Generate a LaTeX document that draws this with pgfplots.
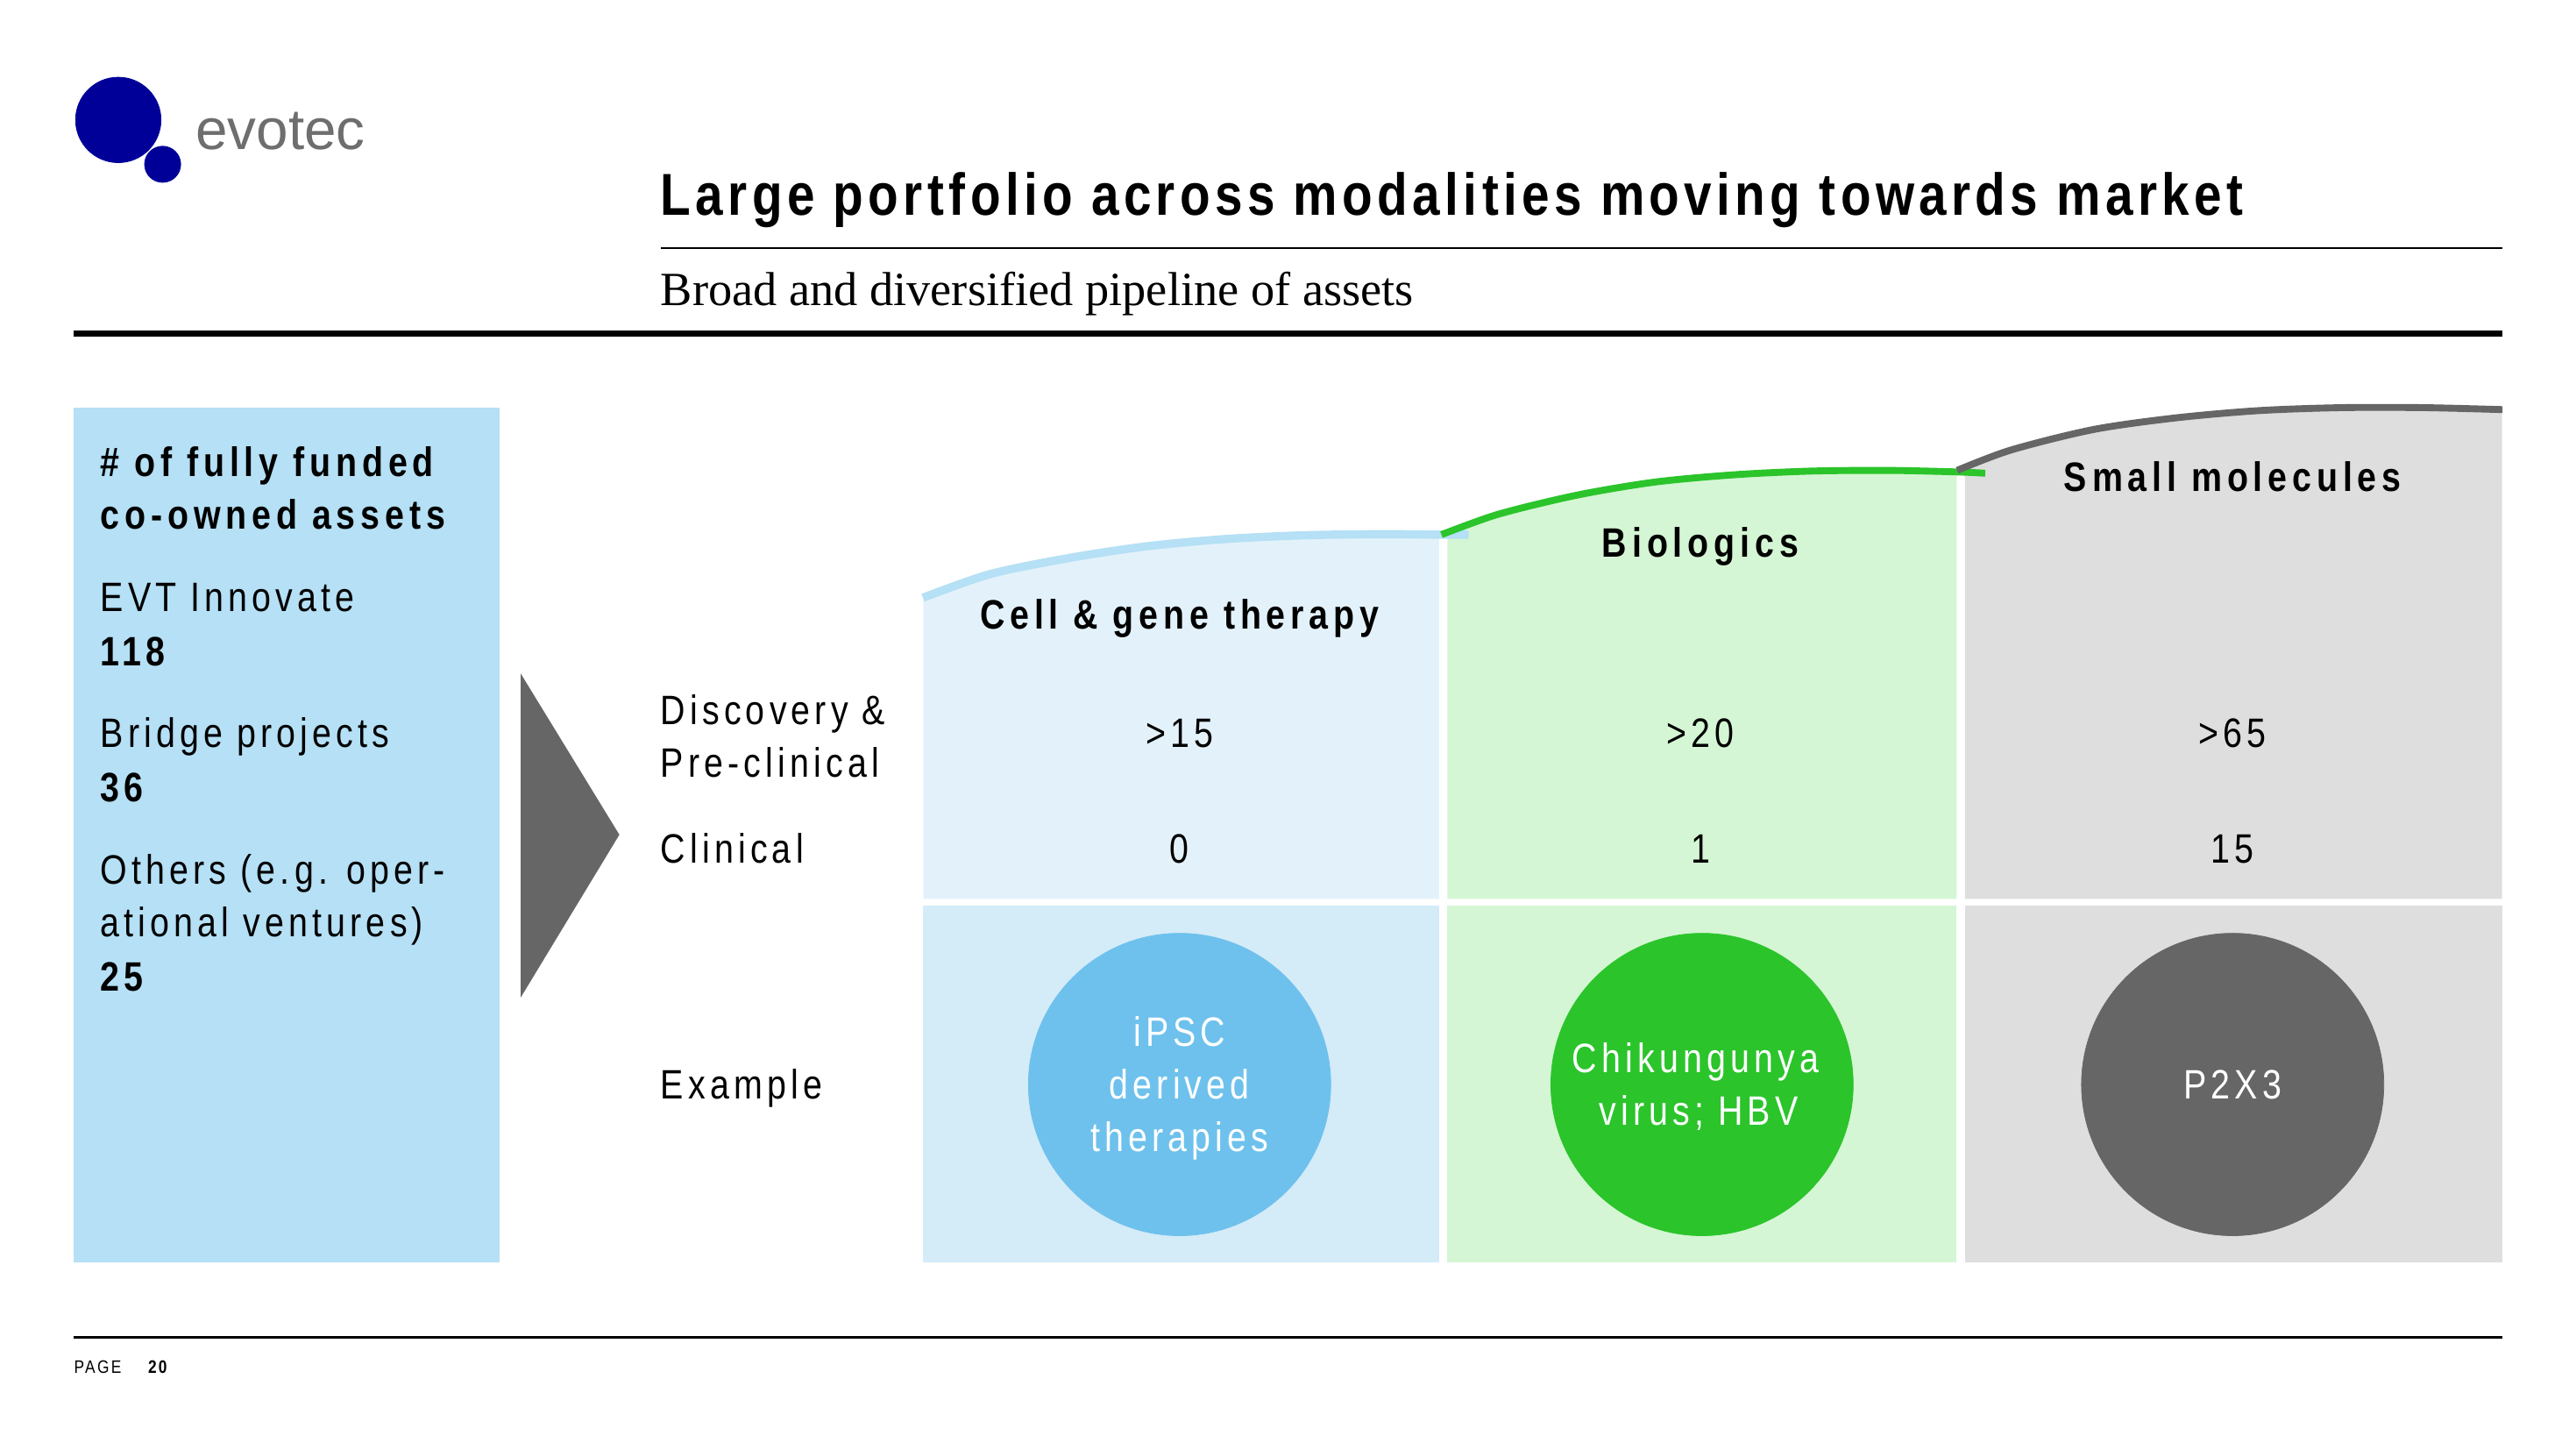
\documentclass[border=0pt]{standalone}
\usepackage{pgfplots}
\pgfplotsset{compat=1.18}
\usepackage{fontspec}
\setmainfont{Liberation Sans}[FakeStretch=0.84, LetterSpace=11]
\newfontfamily\boldsp{Liberation Sans}[FakeStretch=0.84, LetterSpace=12.5]
\newfontfamily\titlefont{Liberation Sans}[FakeStretch=0.84, LetterSpace=8]
\newfontfamily\serifsub{Liberation Serif}
\newfontfamily\logofont{Liberation Sans}
\definecolor{navy}{RGB}{0,0,153}
\definecolor{logogray}{RGB}{110,110,110}
\definecolor{boxblue}{RGB}{181,224,245}
\definecolor{cellup}{RGB}{227,242,250}
\definecolor{celllo}{RGB}{212,235,248}
\definecolor{bioup}{RGB}{212,246,212}
\definecolor{smup}{RGB}{222,222,222}
\definecolor{darkgray}{RGB}{102,102,102}
\definecolor{circblue}{RGB}{110,193,236}
\definecolor{circgreen}{RGB}{43,196,43}
\definecolor{arcblue}{RGB}{181,224,245}
\definecolor{arcgreen}{RGB}{43,196,43}
\newcommand{\fs}[1]{\fontsize{#1}{#1}\selectfont}
\begin{document}
\begin{tikzpicture}
\begin{axis}[set layers, width=1568pt, height=882pt, scale only axis,
  xmin=0, xmax=1568, ymin=0, ymax=882, y dir=reverse,
  hide axis, clip=false]
% background
\addplot[fill=white, draw=none] coordinates {(0,0) (1568,0) (1568,882) (0,882)} -- cycle;
% logo
\addplot[navy, only marks, mark=*, mark size=26pt, mark options={fill=navy, draw=navy}] coordinates {(72,73)};
\addplot[navy, only marks, mark=*, mark size=11pt, mark options={fill=navy, draw=navy}] coordinates {(99,100)};
% rules
\addplot[black, line width=1.5pt] coordinates {(402,151) (1523,151)};
\addplot[black, line width=4pt] coordinates {(45,203) (1523,203)};
% left box
\addplot[fill=boxblue, draw=none] coordinates {(45,248) (304,248) (304,768) (45,768)} -- cycle;
% triangle
\addplot[fill=darkgray, draw=none] coordinates {(317,410) (377,508) (317,607)} -- cycle;
% column fills (upper)
\addplot[fill=cellup, draw=none] coordinates {(562,547) (562,363.8) (602.3,349.5) (650.1,339.7) (697.8,332.5) (745.3,328.1) (793,325.8) (840.7,325.1) (876,325.4) (876,547)} -- cycle;
\addplot[fill=bioup, draw=none] coordinates {(881,547) (881,324) (911.9,313) (959.6,301.4) (1007.2,293.4) (1054.8,289) (1102.4,286.7) (1150,286.3) (1191,287.2) (1191,547)} -- cycle;
\addplot[fill=smup, draw=none] coordinates {(1196,547) (1196,284) (1224,273.9) (1274.3,261.4) (1324.6,254.3) (1374.9,249.9) (1425.2,248.1) (1475.5,248.1) (1523,249.3) (1523,547)} -- cycle;
% lower fills
\addplot[fill=celllo, draw=none] coordinates {(562,551) (876,551) (876,768) (562,768)} -- cycle;
\addplot[fill=bioup, draw=none] coordinates {(881,551) (1191,551) (1191,768) (881,768)} -- cycle;
\addplot[fill=smup, draw=none] coordinates {(1196,551) (1523,551) (1523,768) (1196,768)} -- cycle;
% arcs
\addplot[arcblue, line width=5pt, smooth] coordinates {(561.8,363.8) (602.3,349.5) (650.1,339.7) (697.8,332.5) (745.3,328.1) (793,325.8) (840.7,325.1) (876.4,325.4) (894,325.4)};
\addplot[arcgreen, line width=4.2pt, smooth] coordinates {(877.4,325.4) (911.9,313) (959.6,301.4) (1007.2,293.4) (1054.8,289) (1102.4,286.7) (1150,286.3) (1190.6,287.2) (1208.4,288)};
\addplot[darkgray, line width=4.2pt, smooth] coordinates {(1191.3,286.3) (1224,273.9) (1274.3,261.4) (1324.6,254.3) (1374.9,249.9) (1425.2,248.1) (1475.5,248.1) (1523.2,249.3)};
% circles
\addplot[circblue, only marks, mark=*, mark size=92pt, mark options={fill=circblue, draw=circblue}] coordinates {(718,660)};
\addplot[circgreen, only marks, mark=*, mark size=92pt, mark options={fill=circgreen, draw=circgreen}] coordinates {(1036,660)};
\addplot[darkgray, only marks, mark=*, mark size=92pt, mark options={fill=darkgray, draw=darkgray}] coordinates {(1359,660)};
% footer
\addplot[black, line width=1.5pt] coordinates {(45,814) (1523,814)};

\begin{pgfonlayer}{axis foreground}
\node[anchor=base west, inner sep=0, text=logogray] at (axis cs:119,91) {\logofont\fs{35}evotec};
\node[anchor=base west, inner sep=0] at (axis cs:402,131) {\titlefont\fs{36}\bfseries Large portfolio across modalities moving towards market};
\node[anchor=base west, inner sep=0] at (axis cs:402,186) {\serifsub\fs{29}Broad and diversified pipeline of assets};
\node[anchor=base west, inner sep=0] at (axis cs:61,290) {\boldsp\fs{25}\bfseries \# of fully funded};
\node[anchor=base west, inner sep=0] at (axis cs:61,322) {\boldsp\fs{25}\bfseries co-owned assets};
\node[anchor=base west, inner sep=0] at (axis cs:61,372) {\fs{25}EVT Innovate};
\node[anchor=base west, inner sep=0] at (axis cs:61,405) {\fs{25}\bfseries 118};
\node[anchor=base west, inner sep=0] at (axis cs:61,455) {\fs{25}Bridge projects};
\node[anchor=base west, inner sep=0] at (axis cs:61,488) {\fs{25}\bfseries 36};
\node[anchor=base west, inner sep=0] at (axis cs:61,538) {\fs{25}Others (e.g. oper-};
\node[anchor=base west, inner sep=0] at (axis cs:61,570) {\fs{25}ational ventures)};
\node[anchor=base west, inner sep=0] at (axis cs:61,603) {\fs{25}\bfseries 25};
\node[anchor=base west, inner sep=0] at (axis cs:402,441) {\fs{25}Discovery \&};
\node[anchor=base west, inner sep=0] at (axis cs:402,473) {\fs{25}Pre-clinical};
\node[anchor=base west, inner sep=0] at (axis cs:402,525) {\fs{25}Clinical};
\node[anchor=base west, inner sep=0] at (axis cs:402,669) {\fs{25}Example};
\node[anchor=base, inner sep=0] at (axis cs:718,383) {\boldsp\fs{25}\bfseries Cell \& gene therapy};
\node[anchor=base, inner sep=0] at (axis cs:1035,339) {\boldsp\fs{25}\bfseries Biologics};
\node[anchor=base, inner sep=0] at (axis cs:1359,299) {\boldsp\fs{25}\bfseries Small molecules};
\node[anchor=base, inner sep=0] at (axis cs:718,455) {\fs{25}>15};
\node[anchor=base, inner sep=0] at (axis cs:1035,455) {\fs{25}>20};
\node[anchor=base, inner sep=0] at (axis cs:1359,455) {\fs{25}>65};
\node[anchor=base, inner sep=0] at (axis cs:718,525) {\fs{25}0};
\node[anchor=base, inner sep=0] at (axis cs:1035,525) {\fs{25}1};
\node[anchor=base, inner sep=0] at (axis cs:1359,525) {\fs{25}15};
\node[anchor=base, inner sep=0, text=white] at (axis cs:718,637) {\fs{25}iPSC};
\node[anchor=base, inner sep=0, text=white] at (axis cs:718,669) {\fs{25}derived};
\node[anchor=base, inner sep=0, text=white] at (axis cs:718,701) {\fs{25}therapies};
\node[anchor=base, inner sep=0, text=white] at (axis cs:1032,653) {\fs{25}Chikungunya};
\node[anchor=base, inner sep=0, text=white] at (axis cs:1034,685) {\fs{25}virus; HBV};
\node[anchor=base, inner sep=0, text=white] at (axis cs:1359,669) {\fs{25}P2X3};
\node[anchor=base west, inner sep=0] at (axis cs:45,836) {\fs{11}PAGE};
\node[anchor=base west, inner sep=0] at (axis cs:90,836) {\fs{11}\bfseries 20};
\end{pgfonlayer}
\end{axis}
\end{tikzpicture}
\end{document}
